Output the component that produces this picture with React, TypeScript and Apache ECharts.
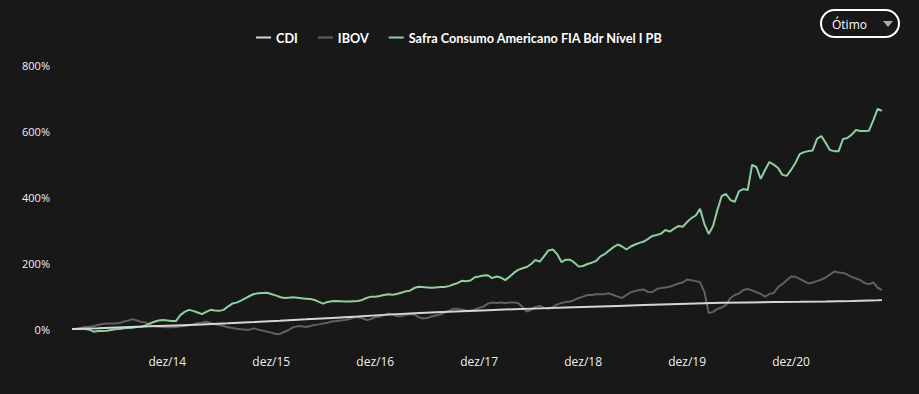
import React, { useEffect, useRef } from "react";
import * as echarts from "echarts";

// semi-monthly observations, Jan 2014 .. Oct 2021 (188 points)
const fundValues = [
  0, 0, 0, 0, -2, -8, -6, -6, -5, -3, -1, 0, 2, 3, 4, 6, 7, 11, 17, 22, 26, 27, 26, 24,
  24, 42, 52, 58, 55, 50, 45, 52, 58, 56, 55, 58, 68, 77, 80, 86, 93, 100, 106, 108, 109, 110, 106, 102,
  97, 94, 95, 96, 95, 93, 92, 91, 88, 82, 77, 82, 84, 85, 84, 83, 83, 84, 85, 88, 94, 98, 98, 100,
  103, 105, 104, 106, 110, 114, 116, 124, 128, 127, 126, 125, 126, 127, 127, 130, 135, 139, 146, 145, 147, 157, 159, 162,
  163, 154, 159, 156, 148, 158, 170, 179, 184, 188, 197, 209, 204, 221, 238, 241, 227, 203, 210, 210, 201, 189, 191, 197,
  201, 206, 220, 227, 238, 248, 256, 250, 241, 250, 256, 261, 265, 273, 282, 285, 289, 300, 295, 304, 312, 310, 324, 336,
  344, 364, 318, 288, 312, 361, 403, 409, 391, 385, 418, 424, 421, 497, 491, 455, 482, 506, 498, 488, 467, 464, 482, 503,
  530, 536, 539, 541, 576, 585, 564, 542, 539, 539, 576, 579, 589, 603, 600, 600, 601, 633, 667, 661,
];

const ibovValues = [
  0, 0, 3, 6, 7, 9, 12, 15, 17, 17, 17, 18, 23, 26, 30, 26, 21, 20, 12, 8, 7, 6, 5, 5,
  6, 8, 9, 11, 14, 18, 19, 22, 18, 14, 12, 9, 5, 3, 1, -1, -2, -2, 2, -2, -5, -8, -11, -15,
  -15, -9, -3, 5, 8, 8, 6, 9, 12, 14, 17, 19, 23, 24, 26, 27, 30, 35, 36, 33, 27, 30, 36, 37,
  42, 47, 45, 39, 39, 42, 45, 44, 36, 32, 33, 38, 41, 44, 50, 55, 61, 61, 59, 56, 55, 59, 64, 68,
  77, 80, 79, 80, 79, 80, 80, 79, 67, 53, 58, 67, 70, 64, 61, 67, 74, 79, 82, 83, 88, 94, 98, 103,
  103, 105, 105, 106, 108, 103, 98, 94, 103, 111, 115, 118, 120, 112, 112, 121, 124, 126, 128, 133, 138, 141, 150, 148,
  145, 142, 112, 48, 52, 61, 65, 73, 94, 103, 108, 118, 121, 117, 112, 106, 98, 106, 109, 127, 136, 148, 159, 158,
  152, 145, 138, 141, 145, 150, 156, 165, 174, 171, 170, 165, 158, 153, 148, 139, 136, 141, 125, 118,
];

// CDI accumulated, quarterly observations (index in the semi-monthly calendar)
const cdiIndex = [0, 6, 12, 18, 24, 30, 36, 42, 48, 54, 60, 66, 72, 78, 84, 90, 96, 102, 108, 114, 120, 126, 132, 138, 144, 150, 156, 162, 168, 174, 180, 186, 187];
const cdiValues = [0, 2.5, 5.3, 8.0, 10.9, 13.9, 17.3, 21.1, 25.1, 29.2, 33.6, 38.1, 42.8, 46.8, 50.6, 54.0, 57.1, 60.0, 62.5, 65.1, 67.5, 70.0, 72.6, 75.1, 77.4, 79.2, 80.6, 81.5, 82.2, 83.2, 84.8, 87.0, 87.5];

const seriesNames = ["CDI", "IBOV", "Safra Consumo Americano FIA Bdr Nível I PB"];
const yTickLabels = [0, 200, 400, 600, 800];
const monthNames = ["jan", "fev", "mar", "abr", "mai", "jun", "jul", "ago", "set", "out", "nov", "dez"];

const dates: string[] = [];
for (let y = 2014; y <= 2021; y++) {
  for (let m = 1; m <= 12; m++) {
    for (const d of ["01", "15"]) {
      if (dates.length < fundValues.length) dates.push(`${y}-${String(m).padStart(2, "0")}-${d}`);
    }
  }
}

export default function App() {
  const ref = useRef<HTMLDivElement>(null);
  useEffect(() => {
    if (!ref.current) return;
    const chart = echarts.init(ref.current, undefined, { renderer: "svg" });
    const font = "'Open Sans', sans-serif";
    chart.setOption({
      animation: false,
      backgroundColor: "#181818",
      legend: {
        top: 26,
        left: "center",
        itemGap: 20,
        itemWidth: 15,
        itemHeight: 2,
        icon: "rect",
        data: seriesNames,
        textStyle: { color: "#ffffff", fontWeight: "bold", fontSize: 12.7, fontFamily: "Lato, sans-serif", padding: [0, 0, 0, 0] },
      },
      grid: { left: 72, right: 37, top: 65, bottom: 48.5 },
      xAxis: {
        type: "category",
        data: dates,
        boundaryGap: false,
        axisLine: { show: false },
        axisTick: { show: false },
        splitLine: { show: false },
        axisLabel: {
          interval: 0,
          margin: 10,
          color: "#eeeeee",
          fontSize: 12,
          fontFamily: font,
          formatter: (v: string) => {
            const [y, m, d] = v.split("-");
            return m === "12" && d === "01" ? `${monthNames[11]}/${y.slice(2)}` : "";
          },
        },
      },
      yAxis: {
        type: "value",
        min: -50,
        max: 800,
        interval: 50,
        axisLine: { show: false },
        axisTick: { show: false },
        splitLine: { show: false },
        axisLabel: {
          margin: 22,
          color: "#eeeeee",
          fontSize: 11,
          fontFamily: font,
          formatter: (v: number) => (yTickLabels.includes(v) ? `${v}%` : ""),
        },
      },
      series: [
        {
          name: seriesNames[0],
          type: "line",
          z: 4,
          showSymbol: false,
          color: "#d6d6d6",
          lineStyle: { width: 2, color: "#d6d6d6" },
          data: cdiIndex.map((i, k) => [i, cdiValues[k]]),
        },
        {
          name: seriesNames[1],
          type: "line",
          z: 2,
          showSymbol: false,
          color: "#606060",
          lineStyle: { width: 2, color: "#606060" },
          data: ibovValues,
        },
        {
          name: seriesNames[2],
          type: "line",
          z: 3,
          showSymbol: false,
          color: "#8fcf9f",
          lineStyle: { width: 2, color: "#8fcf9f" },
          data: fundValues,
        },
      ],
      graphic: [
        {
          type: "rect",
          shape: { x: 821, y: 10, width: 78, height: 27, r: 13.5 },
          style: { fill: "none", stroke: "#ffffff", lineWidth: 2 },
        },
        {
          type: "text",
          x: 832,
          y: 24,
          style: { text: "Ótimo", fill: "#ffffff", fontSize: 12, fontFamily: font, verticalAlign: "middle" },
        },
        {
          type: "polygon",
          shape: { points: [[883, 21], [893, 21], [888, 27]] },
          style: { fill: "#aaaaaa" },
        },
      ],
    });
    return () => chart.dispose();
  }, []);
  return <div ref={ref} style={{ position: "fixed", left: 0, top: 0, width: 919, height: 394 }} />;
}
